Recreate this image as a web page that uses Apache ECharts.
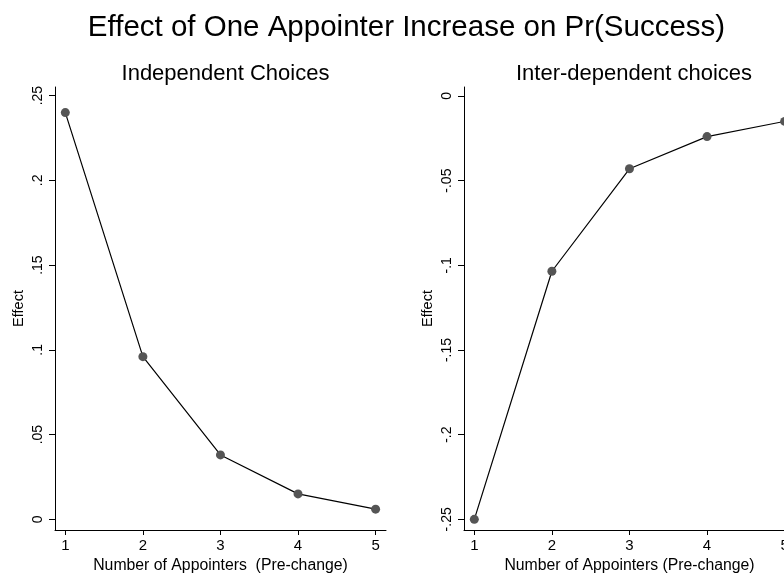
<!DOCTYPE html>
<html><head><meta charset="utf-8">
<script src="https://cdn.jsdelivr.net/npm/echarts@6/dist/echarts.min.js"></script>
<style>html,body{margin:0;padding:0;background:#fff}#c{width:784px;height:575px}</style>
</head><body><div id="c"></div>
<script>
const appointers = [1, 2, 3, 4, 5];
const independentEffect = [0.240, 0.096, 0.038, 0.015, 0.006];
const interdependentEffect = [-0.250, -0.1035, -0.043, -0.024, -0.015];
const leftTicks = [0, 0.05, 0.10, 0.15, 0.20, 0.25];
const rightTicks = [-0.25, -0.20, -0.15, -0.10, -0.05, 0];
const mainTitle = 'Effect of One Appointer Increase on Pr(Success)';
const leftTitle = 'Independent Choices';
const rightTitle = 'Inter-dependent choices';
const leftXName = 'Number of Appointers  (Pre-change)';
const rightXName = 'Number of Appointers (Pre-change)';
const yName = 'Effect';

const FONT = '"Liberation Sans", Arial, Helvetica, sans-serif';
function fmt(v) {
  if (Math.abs(v) < 1e-9) return '0';
  let s = String(+v.toFixed(2));
  return s.replace('0.', '.');
}
const chart = echarts.init(document.getElementById('c'), null, {renderer: 'canvas'});
const axisLineStyle = {color: '#000', width: 1};
function xAxis(gridIndex, name) {
  return {
    type: 'value', gridIndex, min: 0.867, max: 5.134,
    name, nameLocation: 'middle', nameGap: 22,
    nameTextStyle: {fontFamily: FONT, fontSize: 15.8, color: '#000'},
    axisLine: {show: true, onZero: false, lineStyle: axisLineStyle},
    axisTick: {show: true, length: 5, lineStyle: axisLineStyle, customValues: appointers},
    axisLabel: {fontFamily: FONT, fontSize: 15, color: '#000', margin: 8, customValues: appointers,
      formatter: v => String(v)},
    splitLine: {show: false}
  };
}
function yAxis(gridIndex, min, max, ticks) {
  return {
    type: 'value', gridIndex, min, max,
    name: yName, nameLocation: 'middle', nameGap: 29,
    nameTextStyle: {fontFamily: FONT, fontSize: 14.5, color: '#000'},
    axisLine: {show: true, onZero: false, lineStyle: axisLineStyle},
    axisTick: {show: true, length: 6, lineStyle: axisLineStyle, customValues: ticks},
    axisLabel: {fontFamily: FONT, fontSize: 14, color: '#000', rotate: 90, margin: 10,
      align: 'center', verticalAlign: 'bottom',
      customValues: ticks, formatter: v => fmt(v)},
    splitLine: {show: false}
  };
}
const option = {
  backgroundColor: '#fff',
  animation: false,
  title: [
    {text: mainTitle, left: 401.5, top: 8, textAlign: 'center',
      textStyle: {fontFamily: FONT, fontSize: 29.5, fontWeight: 'normal', color: '#000'}},
    {text: leftTitle, left: 220.5, top: 58, textAlign: 'center',
      textStyle: {fontFamily: FONT, fontSize: 22, fontWeight: 'normal', color: '#000'}},
    {text: rightTitle, left: 629, top: 58, textAlign: 'center',
      textStyle: {fontFamily: FONT, fontSize: 22, fontWeight: 'normal', color: '#000'}}
  ],
  grid: [
    {left: 55, top: 87, width: 331, height: 443, containLabel: false, outerBoundsMode: 'none'},
    {left: 464, top: 87, width: 331, height: 443, containLabel: false, outerBoundsMode: 'none'}
  ],
  xAxis: [xAxis(0, leftXName), xAxis(1, rightXName)],
  yAxis: [yAxis(0, -0.0063, 0.2551, leftTicks), yAxis(1, -0.2563, 0.0053, rightTicks)],
  series: [
    {type: 'line', xAxisIndex: 0, yAxisIndex: 0,
      data: appointers.map((x, i) => [x, independentEffect[i]]),
      symbol: 'circle', symbolSize: 9, showAllSymbol: true,
      lineStyle: {color: '#000', width: 1.2},
      itemStyle: {color: '#555555', borderWidth: 0}},
    {type: 'line', xAxisIndex: 1, yAxisIndex: 1,
      data: appointers.map((x, i) => [x, interdependentEffect[i]]),
      symbol: 'circle', symbolSize: 9, showAllSymbol: true, clip: false,
      lineStyle: {color: '#000', width: 1.2},
      itemStyle: {color: '#555555', borderWidth: 0}}
  ]
};
chart.setOption(option);
</script></body></html>
